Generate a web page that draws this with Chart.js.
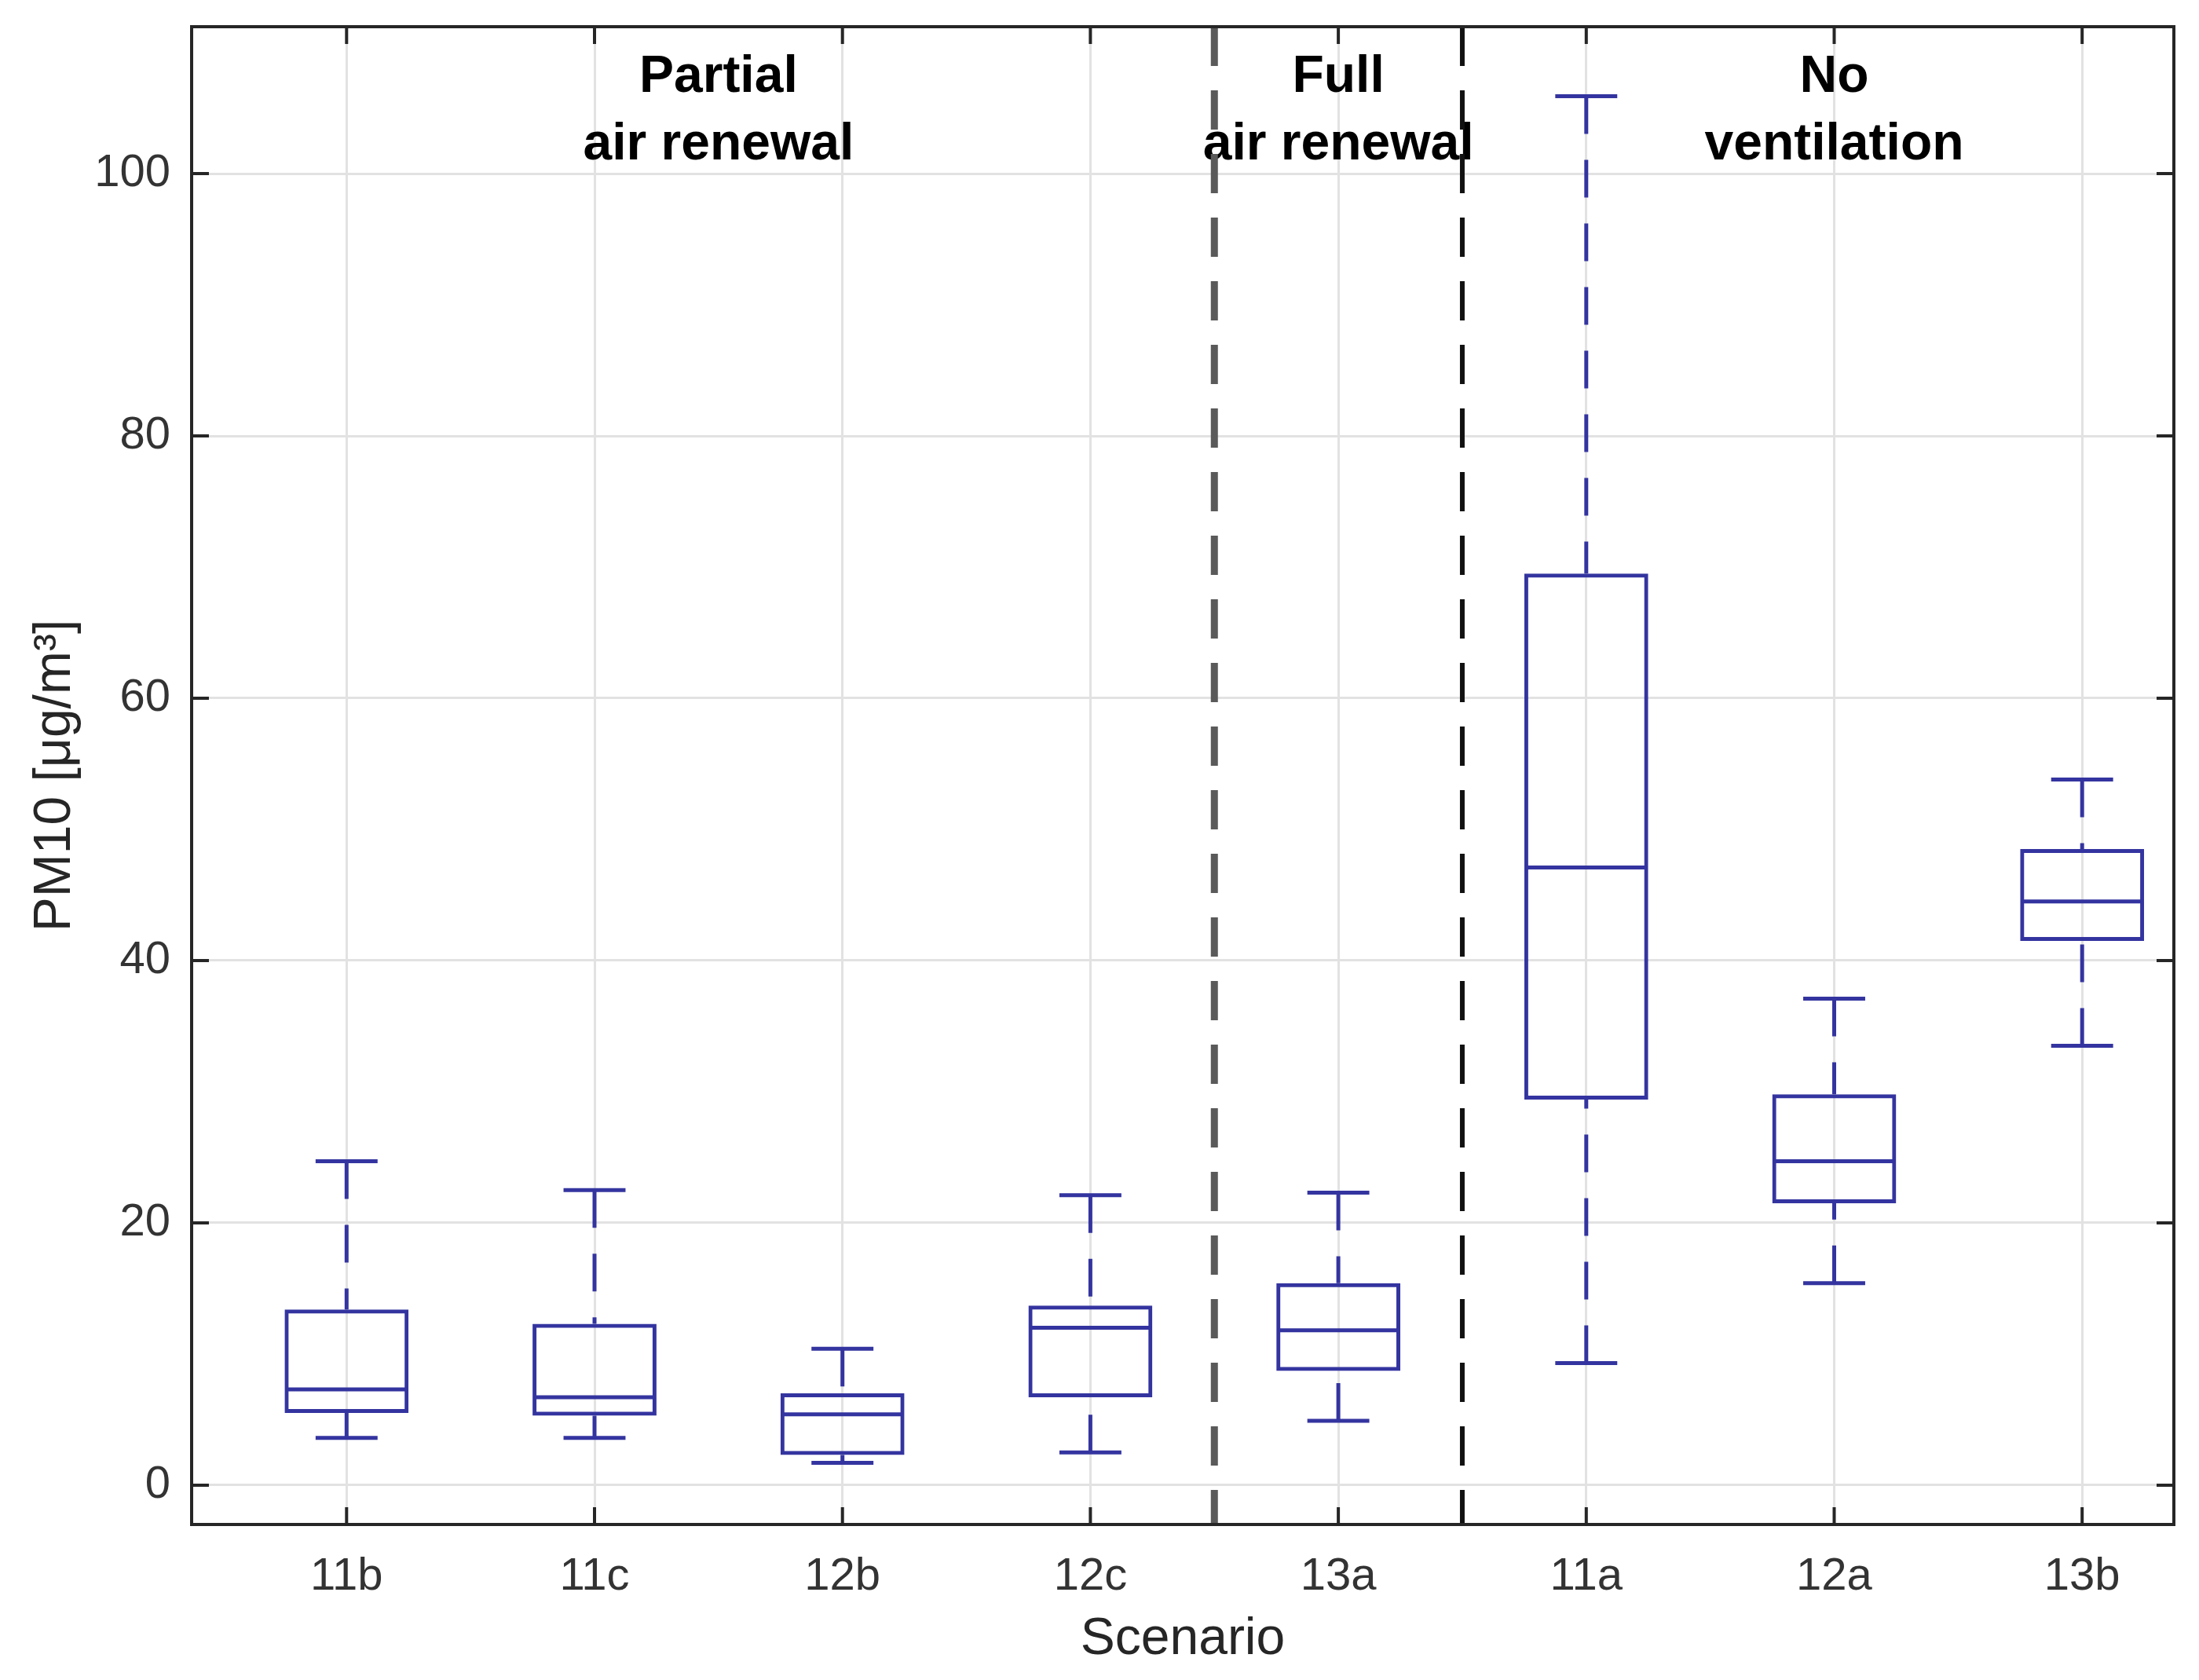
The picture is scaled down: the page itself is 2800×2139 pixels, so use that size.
<!DOCTYPE html>
<html>
<head>
<meta charset="utf-8">
<title>PM10 per scenario</title>
<script src="https://cdn.jsdelivr.net/npm/chart.js@4.4.1/dist/chart.umd.min.js"></script>
<style>
  html, body { margin: 0; padding: 0; background: #fff; }
  #wrap { width: 2800px; height: 2139px; }
</style>
</head>
<body>
<div id="wrap"><canvas id="pmChart"></canvas></div>
<script>
// scenarios, in the order they are plotted
const categories = ['11b', '11c', '12b', '12c', '13a', '11a', '12a', '13b'];

// box plot statistics, PM10 in ug/m3
const whiskerLow  = [3.6, 3.6, 1.7, 2.5, 4.9, 9.3, 15.4, 33.5];
const quart1      = [5.5, 5.3, 2.3, 6.7, 8.7, 29.4, 21.5, 41.5];
const medians     = [7.3, 6.7, 5.4, 12.0, 11.8, 47.1, 24.7, 44.5];
const quart3      = [13.4, 12.3, 7.0, 13.7, 15.4, 69.5, 29.8, 48.5];
const whiskerHigh = [24.7, 22.5, 10.4, 22.1, 22.3, 105.9, 37.1, 53.8];

// ventilation groups: label lines and how many scenarios each holds
const groupLabels = [['Partial', 'air renewal'], ['Full', 'air renewal'], ['No', 'ventilation']];
const groupSizes = [4, 1, 3];

const yTicks = [0, 20, 40, 60, 80, 100];

const BLUE = '#3434a0';
const AXIS = '#262626';
const FONT = '"Liberation Sans", Arial, Helvetica, sans-serif';

const boxPlot = {
  id: 'boxPlot',
  afterDatasetsDraw(chart) {
    const { ctx, chartArea: area, scales: { x, y } } = chart;
    const step = x.getPixelForValue(2) - x.getPixelForValue(1);
    const capHalf = step * 0.125;
    const boxes = chart.getDatasetMeta(0).data;

    ctx.save();
    ctx.strokeStyle = BLUE;
    ctx.lineWidth = 5;
    ctx.lineCap = 'butt';

    categories.forEach((c, i) => {
      const px = x.getPixelForValue(i + 1);

      // dashed whiskers, drawn from the cap towards the box
      ctx.setLineDash([48, 33]);
      ctx.beginPath();
      ctx.moveTo(px, y.getPixelForValue(whiskerHigh[i]));
      ctx.lineTo(px, y.getPixelForValue(quart3[i]));
      ctx.moveTo(px, y.getPixelForValue(whiskerLow[i]));
      ctx.lineTo(px, y.getPixelForValue(quart1[i]));
      ctx.stroke();

      // caps
      ctx.setLineDash([]);
      ctx.beginPath();
      [whiskerHigh[i], whiskerLow[i]].forEach(v => {
        const py = y.getPixelForValue(v);
        ctx.moveTo(px - capHalf, py);
        ctx.lineTo(px + capHalf, py);
      });
      ctx.stroke();

      // median across the box
      const el = boxes[i];
      const pm = y.getPixelForValue(medians[i]);
      ctx.beginPath();
      ctx.moveTo(el.x - el.width / 2 + 2, pm);
      ctx.lineTo(el.x + el.width / 2 - 2, pm);
      ctx.stroke();
    });

    // group titles
    let start = 1;
    ctx.font = 'bold 66px ' + FONT;
    ctx.fillStyle = '#000';
    ctx.textAlign = 'center';
    ctx.textBaseline = 'alphabetic';
    groupSizes.forEach((n, g) => {
      const end = start + n - 1;
      const cx = x.getPixelForValue((start + end) / 2);
      groupLabels[g].forEach((line, k) => {
        ctx.fillText(line, cx, area.top + 83 + k * 86);
      });
      start = end + 1;
    });

    // dashed separators between the groups
    const sepColors = ['#5a5a5a', '#111111'];
    const sepWidths = [9, 6];
    start = 1;
    groupSizes.forEach((n, g) => {
      start += n;
      if (g >= groupSizes.length - 1) return;
      const px = x.getPixelForValue(start - 0.5);
      ctx.strokeStyle = sepColors[g];
      ctx.lineWidth = sepWidths[g];
      ctx.setLineDash([50, 31]);
      ctx.beginPath();
      ctx.moveTo(px, area.top);
      ctx.lineTo(px, area.bottom);
      ctx.stroke();
    });
    ctx.restore();
  },
  afterDraw(chart) {
    const { ctx, chartArea: area, scales: { x, y } } = chart;
    const tick = 22;
    ctx.save();
    ctx.strokeStyle = AXIS;
    ctx.lineWidth = 4;
    ctx.setLineDash([]);
    ctx.strokeRect(area.left, area.top, area.right - area.left, area.bottom - area.top);
    ctx.beginPath();
    x.ticks.forEach(t => {
      const px = x.getPixelForValue(t.value);
      ctx.moveTo(px, area.bottom);
      ctx.lineTo(px, area.bottom - tick);
      ctx.moveTo(px, area.top);
      ctx.lineTo(px, area.top + tick);
    });
    y.ticks.forEach(t => {
      const py = y.getPixelForValue(t.value);
      ctx.moveTo(area.left, py);
      ctx.lineTo(area.left + tick, py);
      ctx.moveTo(area.right, py);
      ctx.lineTo(area.right - tick, py);
    });
    ctx.stroke();
    ctx.restore();
  }
};

new Chart(document.getElementById('pmChart'), {
  type: 'bar',
  data: {
    datasets: [{
      label: 'IQR',
      data: categories.map((c, i) => ({ x: i + 1, y: [quart1[i], quart3[i]] })),
      backgroundColor: 'rgba(0,0,0,0)',
      borderColor: BLUE,
      borderWidth: 5,
      borderSkipped: false,
      barPercentage: 0.5,
      categoryPercentage: 1
    }]
  },
  options: {
    responsive: true,
    maintainAspectRatio: false,
    devicePixelRatio: 1,
    animation: false,
    layout: { padding: { top: 34, right: 32, left: 0, bottom: 0 } },
    plugins: {
      legend: { display: false },
      tooltip: { enabled: false }
    },
    scales: {
      x: {
        type: 'linear',
        min: 0.375,
        max: 8.37,
        offset: false,
        afterBuildTicks: scale => { scale.ticks = categories.map((c, i) => ({ value: i + 1 })); },
        afterFit: scale => { scale.height = 198; scale.paddingLeft = 0; scale.paddingRight = 0; },
        grid: { offset: false, color: '#e2e2e2', lineWidth: 3, drawTicks: false },
        border: { display: false },
        ticks: {
          padding: 32,
          color: '#333',
          font: { family: FONT, size: 58 },
          callback: (v, i) => categories[i]
        },
        title: {
          display: true,
          text: 'Scenario',
          color: AXIS,
          font: { family: FONT, size: 66 },
          padding: { top: 0, bottom: 12 }
        }
      },
      y: {
        min: -3,
        max: 111.2,
        afterBuildTicks: scale => { scale.ticks = yTicks.map(v => ({ value: v })); },
        afterFit: scale => { scale.width = 244; scale.paddingTop = 0; scale.paddingBottom = 0; },
        grid: { color: '#e2e2e2', lineWidth: 3, drawTicks: false },
        border: { display: false },
        ticks: {
          padding: 27,
          color: '#333',
          font: { family: FONT, size: 58 }
        },
        title: {
          display: true,
          text: 'PM10 [μg/m³]',
          color: AXIS,
          font: { family: FONT, size: 66 },
          padding: { top: 31, bottom: 0 }
        }
      }
    }
  },
  plugins: [boxPlot]
});
</script>
</body>
</html>
